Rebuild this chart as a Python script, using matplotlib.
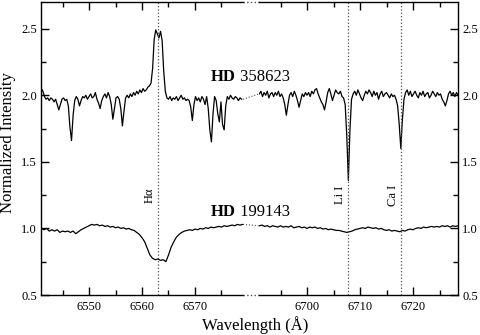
#!/usr/bin/python

import numpy as np
import matplotlib
matplotlib.use("Agg")
import matplotlib.pyplot as plt
from matplotlib.ticker import MultipleLocator

plt.rcParams['font.family'] = ['Liberation Serif', 'DejaVu Serif']

# wavelength windows (Angstrom)
left_lim = (6540.94, 6579.06)
right_lim = (6690.94, 6728.49)
step_hd358 = 0.3
step_hd199 = 0.5

# HD 358623 (offset +1), H-alpha window, starts at 6541.0
hd358_left = [
    2.05, 2.03, 1.99, 1.97, 1.98, 1.96, 1.98, 1.97, 1.95, 1.97,
    1.93, 1.89, 1.93, 1.97, 1.98, 1.96, 1.97, 1.92, 1.76, 1.66,
    1.85, 1.96, 1.99, 1.97, 1.92, 1.96, 1.99, 1.98, 2.00, 1.97,
    1.99, 2.01, 1.98, 1.99, 2.02, 1.97, 1.94, 1.90, 1.96, 1.99,
    2.01, 1.98, 2.02, 1.99, 1.93, 1.82, 1.90, 1.98, 1.99, 1.97,
    1.90, 1.77, 1.88, 1.98, 2.00, 1.98, 2.01, 1.99, 2.02, 2.00,
    2.03, 2.01, 2.04, 2.02, 2.05, 2.03, 2.04, 2.06, 2.07, 2.09,
    2.20, 2.42, 2.49, 2.46, 2.43, 2.48, 2.41, 2.18, 2.03, 1.98,
    1.97, 1.99, 1.96, 1.98, 1.97, 1.99, 1.96, 1.98, 2.00, 1.97,
    1.98, 1.96, 1.97, 1.96, 1.91, 1.81, 1.93, 1.99, 1.96, 1.98,
    1.95, 1.99, 1.97, 1.93, 1.99, 1.90, 1.74, 1.65, 1.86, 1.99,
    1.96, 1.86, 1.80, 1.95, 1.78, 1.74, 1.92, 1.99, 1.97, 2.00,
    1.98, 1.97, 1.99, 1.98, 1.96, 1.98, 1.97,
]
# HD 358623, Li window, starts at 6691.0
hd358_right = [
    2.01, 2.03, 1.99, 2.02, 2.00, 2.03, 1.98, 2.01, 2.02, 1.99,
    2.02, 2.00, 2.03, 1.99, 2.01, 1.98, 1.93, 1.85, 1.93, 2.00,
    2.02, 1.99, 2.03, 2.00, 1.96, 1.91, 1.96, 2.01, 1.99, 2.02,
    2.00, 2.02, 1.99, 2.03, 2.01, 2.04, 2.05, 2.01, 1.98, 1.95,
    1.93, 1.89, 1.95, 2.02, 2.05, 2.01, 1.96, 2.00, 2.04, 2.02,
    2.01, 2.03, 1.99, 1.98, 1.93, 1.70, 1.36, 1.74, 1.97, 2.01,
    2.03, 2.00, 2.04, 2.01, 1.98, 1.96, 2.00, 2.03, 2.01, 2.04,
    2.02, 1.99, 2.03, 2.00, 2.02, 1.97, 2.01, 2.03, 1.99, 2.01,
    2.02, 2.00, 1.98, 2.01, 1.99, 2.00, 1.97, 1.92, 1.78, 1.60,
    1.82, 1.97, 2.02, 2.04, 2.00, 2.03, 1.99, 2.01, 2.03, 2.00,
    1.98, 2.02, 2.00, 2.03, 1.99, 2.01, 2.02, 1.98, 2.00, 2.03,
    2.01, 1.99, 2.02, 2.00, 2.01, 1.97, 1.95, 1.92, 1.96, 2.01,
    2.03, 2.00, 2.02, 1.99, 2.02, 2.00,
]
# HD 199143, H-alpha window, starts at 6541.0
hd199_left = [
    1.00, 0.99, 1.00, 0.98, 0.99, 0.98, 0.99, 0.97, 0.98, 0.975,
    0.98, 0.97, 0.98, 0.96, 0.975, 0.99, 1.00, 1.01, 1.02, 1.03,
    1.025, 1.03, 1.02, 1.025, 1.015, 1.02, 1.01, 1.015, 1.005, 1.01,
    1.00, 1.005, 0.995, 1.00, 0.99, 0.985, 0.97, 0.955, 0.93, 0.90,
    0.85, 0.80, 0.775, 0.765, 0.77, 0.76, 0.765, 0.75, 0.80, 0.86,
    0.90, 0.935, 0.955, 0.97, 0.98, 0.985, 0.99, 0.985, 0.995, 0.99,
    1.00, 0.995, 1.005, 1.00, 1.01, 1.005, 1.01, 1.015, 1.01, 1.02,
    1.015, 1.02, 1.025, 1.02, 1.03, 1.025, 1.03,
]
# HD 199143, Li window, starts at 6691.0
hd199_right = [
    1.02, 1.025, 1.015, 1.02, 1.01, 1.02, 1.015, 1.01, 1.02, 1.01,
    1.015, 1.01, 1.02, 1.005, 1.01, 1.015, 1.005, 1.01, 1.00, 1.01,
    1.005, 1.01, 1.00, 1.005, 0.995, 1.00, 0.99, 0.995, 0.99, 0.985,
    0.985, 0.98, 0.975, 0.97, 0.975, 0.98, 0.99, 0.995, 1.00, 1.005,
    1.00, 1.01, 1.005, 1.00, 1.005, 0.995, 1.00, 0.99, 0.985, 0.99,
    0.98, 0.985, 0.98, 0.975, 0.985, 0.98, 0.99, 0.995, 0.99, 1.00,
    1.005, 1.00, 1.01, 1.005, 1.01, 1.015, 1.01, 1.015, 1.01, 1.02,
    1.015, 1.02, 1.01, 1.02, 1.015, 1.02,
]

line_marks = [("H\u03b1", 6563.0, "left"), ("Li I", 6707.8, "right"), ("Ca I", 6717.7, "right")]
star_labels = [("HD", " 358623", 2.14), ("HD", " 199143", 1.12)]
ylim = (0.5, 2.7)


def wave(start, step, vals):
    return start + step * np.arange(len(vals))


fig = plt.figure(figsize=(4.81, 3.35), dpi=100)
bottom, height = 0.1194, 0.8746
axl = fig.add_axes([41 / 481., bottom, 202 / 481., height])
axg = fig.add_axes([243 / 481., bottom, 16 / 481., height])
axr = fig.add_axes([259 / 481., bottom, 199 / 481., height])

axl.plot(wave(6541.0, step_hd358, hd358_left), hd358_left, color='k', lw=0.9)
axl.plot(wave(6541.0, step_hd199, hd199_left), hd199_left, color='k', lw=0.9)
axr.plot(wave(6691.0, step_hd358, hd358_right), hd358_right, color='k', lw=0.9)
axr.plot(wave(6691.0, step_hd199, hd199_right), hd199_right, color='k', lw=0.9)

# dotted bridge across the break
axg.plot([0, 1], [hd358_left[-1], hd358_right[0]], color='0.3', ls=':', lw=0.8)
axg.plot([0, 1], [hd199_left[-1], hd199_right[0]], color='0.3', ls=':', lw=0.8)
axg.set_xlim(0, 1)
axg.set_ylim(ylim)
axg.axis('off')
axg.plot([0, 1], [ylim[0], ylim[0]], color='0.3', ls=':', lw=1.0, clip_on=False)
axg.plot([0, 1], [ylim[1], ylim[1]], color='0.3', ls=':', lw=1.0, clip_on=False)

axl.set_xlim(left_lim)
axr.set_xlim(right_lim)

for ax in (axl, axr):
    ax.set_ylim(ylim)
    ax.xaxis.set_major_locator(MultipleLocator(10))
    ax.xaxis.set_minor_locator(MultipleLocator(5))
    ax.yaxis.set_major_locator(MultipleLocator(0.5))
    ax.yaxis.set_minor_locator(MultipleLocator(0.25))
    ax.tick_params(which='both', direction='in', top=True, labelsize=9, width=1.0)
    ax.tick_params(which='major', length=6)
    ax.tick_params(which='minor', length=3.5)
    ax.tick_params(axis='x', pad=4)
    ax.tick_params(axis='y', pad=3)
    ax.yaxis.set_major_formatter(plt.FormatStrFormatter('%.1f'))
    for s in ax.spines.values():
        s.set_linewidth(1.0)

axl.spines['right'].set_visible(False)
axl.tick_params(which='both', right=False)
axr.spines['left'].set_visible(False)
axr.tick_params(which='both', left=False, labelleft=False, right=True, labelright=True)

for name, lam, side in line_marks:
    ax = axl if side == "left" else axr
    ax.axvline(lam, color='0.3', ls=':', lw=0.9)
    ax.text(lam - 1.5, 1.25, name, rotation=90, ha='center', va='center', fontsize=9)

for bold, rest, yv in star_labels:
    yfig = bottom + height * (yv - ylim[0]) / (ylim[1] - ylim[0])
    fig.text(0.4906, yfig, bold, ha='right', va='center', fontsize=12, fontweight='bold')
    fig.text(0.4906, yfig, rest, ha='left', va='center', fontsize=12)

fig.text(0.017, 0.575, "Normalized Intensity", rotation=90, ha='center', va='center', fontsize=12)
fig.text(0.53, 0.03, "Wavelength (\u00c5)", ha='center', va='center', fontsize=12)

fig.savefig("out.png", dpi=100)
